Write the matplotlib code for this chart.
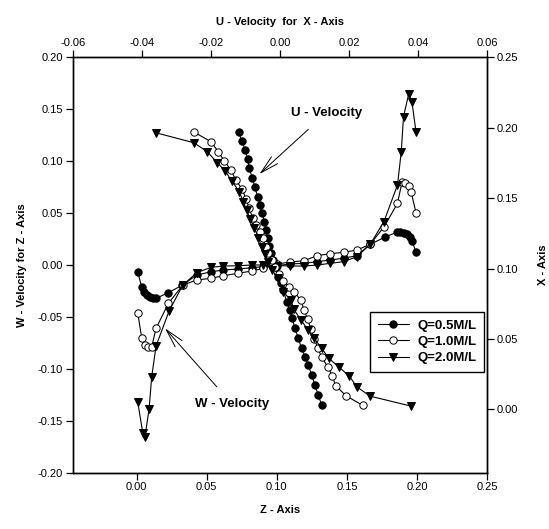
import matplotlib
matplotlib.use("Agg")
import matplotlib.pyplot as plt
from matplotlib.lines import Line2D

plt.rcParams['font.family'] = ['Liberation Sans', 'DejaVu Sans']
plt.rcParams['axes.unicode_minus'] = False

labels = ["Q=0.5M/L", "Q=1.0M/L", "Q=2.0M/L"]

# ---- W-velocity vs Z-axis (bottom / left axes) ----
z_w_05 = [0.0007, 0.0036, 0.0050, 0.0071, 0.0095, 0.0119, 0.0138, 0.0226, 0.0326,
          0.0429, 0.0531, 0.0619, 0.0721, 0.0821, 0.0904, 0.1002, 0.1097, 0.1193,
          0.1288, 0.1381, 0.1476, 0.1571, 0.1666, 0.1774, 0.1861, 0.1881, 0.1904,
          0.1929, 0.1952, 0.1964, 0.1993]
w_05 = [-0.0065, -0.0215, -0.0257, -0.0289, -0.0305, -0.0315, -0.0321, -0.0267, -0.0193,
        -0.0096, -0.0065, -0.0048, -0.0039, -0.0026, -0.0016, -0.0005, 0.0010, 0.0016,
        0.0032, 0.0048, 0.0065, 0.0090, 0.0199, 0.0270, 0.0318, 0.0315, 0.0308,
        0.0296, 0.0273, 0.0231, 0.0128]

z_w_10 = [0.0007, 0.0036, 0.0059, 0.0083, 0.0107, 0.0138, 0.0226, 0.0329,
          0.0429, 0.0531, 0.0619, 0.0721, 0.0821, 0.0904, 0.1002, 0.1097, 0.1193,
          0.1288, 0.1381, 0.1476, 0.1571, 0.1666, 0.1766, 0.1861, 0.1893, 0.1916,
          0.1940, 0.1959, 0.1993]
w_10 = [-0.0459, -0.0706, -0.0770, -0.0787, -0.0787, -0.0610, -0.0369, -0.0193,
        -0.0144, -0.0128, -0.0103, -0.0080, -0.0058, -0.0032, 0.0010, 0.0029, 0.0041,
        0.0090, 0.0109, 0.0122, 0.0144, 0.0199, 0.0369, 0.0594, 0.0796, 0.0787,
        0.0761, 0.0700, 0.0504]

z_w_20 = [0.0007, 0.0043, 0.0059, 0.0088, 0.0107, 0.0138, 0.0231, 0.0329,
          0.0429, 0.0531, 0.0619, 0.0721, 0.0821, 0.0904, 0.1002, 0.1097, 0.1193,
          0.1288, 0.1381, 0.1476, 0.1571, 0.1666, 0.1764, 0.1861, 0.1888, 0.1904,
          0.1941, 0.1964, 0.1993]
w_20 = [-0.1316, -0.1615, -0.1653, -0.1389, -0.1076, -0.0780, -0.0443, -0.0193,
        -0.0074, -0.0022, -0.0010, -0.0007, 0.0000, 0.0000, -0.0005, -0.0010, -0.0010,
        0.0000, 0.0016, 0.0032, 0.0080, 0.0199, 0.0417, 0.0770, 0.1091, 0.1428,
        0.1647, 0.1572, 0.1284]

# ---- U-velocity vs X-axis (top / right axes) ----
u_05 = [-0.01193, -0.01106, -0.01002, -0.00933, -0.00886, -0.00799, -0.00721, -0.00643,
        -0.00576, -0.00510, -0.00452, -0.00403, -0.00353, -0.00307, -0.00249, -0.00191,
        -0.00122, -0.00046, 0.00023, 0.00098, 0.00197, 0.00293, 0.00359, 0.00437,
        0.00533, 0.00631, 0.00727, 0.00823, 0.00921, 0.01017, 0.01112, 0.01211]
x_u_05 = [0.1969, 0.1908, 0.1842, 0.1776, 0.1712, 0.1643, 0.1577, 0.1510,
          0.1451, 0.1392, 0.1332, 0.1273, 0.1214, 0.1160, 0.1108, 0.1060,
          0.1009, 0.0942, 0.0895, 0.0847, 0.0764, 0.0705, 0.0646, 0.0575,
          0.0504, 0.0433, 0.0374, 0.0315, 0.0244, 0.0173, 0.0102, 0.0031]

u_10 = [-0.02488, -0.01996, -0.01784, -0.01610, -0.01416, -0.01280, -0.01089, -0.00982,
        -0.00886, -0.00788, -0.00684, -0.00576, -0.00498, -0.00403, -0.00336, -0.00238,
        -0.00142, -0.00026, 0.00090, 0.00264, 0.00408, 0.00611, 0.00698, 0.00805,
        0.00901, 0.00996, 0.01095, 0.01211, 0.01402, 0.01518, 0.01616, 0.01915, 0.02398]
x_u_10 = [0.1969, 0.1901, 0.1830, 0.1763, 0.1700, 0.1629, 0.1563, 0.1494,
          0.1428, 0.1357, 0.1309, 0.1261, 0.1214, 0.1155, 0.1108, 0.1060,
          0.1011, 0.0961, 0.0911, 0.0869, 0.0835, 0.0776, 0.0705, 0.0639,
          0.0568, 0.0503, 0.0438, 0.0369, 0.0298, 0.0237, 0.0168, 0.0097, 0.0028]

u_20 = [-0.03589, -0.02488, -0.02103, -0.01813, -0.01590, -0.01396, -0.01176, -0.01060,
        -0.00962, -0.00866, -0.00736, -0.00626, -0.00527, -0.00432, -0.00345, -0.00229,
        -0.00046, 0.00098, 0.00313, 0.00408, 0.00611, 0.00823, 0.00996, 0.01211,
        0.01422, 0.01720, 0.02010, 0.02224, 0.02610, 0.03797]
x_u_20 = [0.1964, 0.1893, 0.1830, 0.1751, 0.1695, 0.1624, 0.1545, 0.1474,
          0.1415, 0.1352, 0.1288, 0.1220, 0.1156, 0.1103, 0.1046, 0.0989,
          0.0930, 0.0835, 0.0776, 0.0710, 0.0634, 0.0563, 0.0504, 0.0433,
          0.0362, 0.0298, 0.0237, 0.0161, 0.0094, 0.0023]

z_ticks = [0.00, 0.05, 0.10, 0.15, 0.20, 0.25]
w_ticks = [-0.20, -0.15, -0.10, -0.05, 0.00, 0.05, 0.10, 0.15, 0.20]
u_ticks = [-0.06, -0.04, -0.02, 0.00, 0.02, 0.04, 0.06]
x_ticks = [0.00, 0.05, 0.10, 0.15, 0.20, 0.25]

fig = plt.figure(figsize=(5.49, 5.29), dpi=100)
pos = [0.1324, 0.1064, 0.7547, 0.7853]
ax = fig.add_axes(pos)
ax2 = fig.add_axes(pos, facecolor='none')

styles = [dict(marker='o', mfc='black', mec='black'),
          dict(marker='o', mfc='white', mec='black'),
          dict(marker='v', mfc='black', mec='black')]
ms = [5.3, 5.3, 5.5]
lw = 0.8

for zz, ww, st, m in zip([z_w_05, z_w_10, z_w_20], [w_05, w_10, w_20], styles, ms):
    ax.plot(zz, ww, color='black', lw=lw, ms=m, mew=0.7, **st)
for uu, xx, st, m in zip([u_05, u_10, u_20], [x_u_05, x_u_10, x_u_20], styles, ms):
    ax2.plot(uu, xx, color='black', lw=lw, ms=m, mew=0.7, **st)

ax.set_xlim(-0.0457, 0.25)
ax.set_ylim(-0.20, 0.20)
ax.set_xticks(z_ticks)
ax.set_yticks(w_ticks)
ax.set_xticklabels([f"{v:.2f}" for v in z_ticks])
ax.set_yticklabels([f"{v:.2f}" for v in w_ticks])

ax2.set_xlim(-0.06, 0.06)
ax2.set_ylim(-0.045, 0.25)
ax2.xaxis.tick_top()
ax2.yaxis.tick_right()
ax2.xaxis.set_label_position('top')
ax2.yaxis.set_label_position('right')
ax2.set_xticks(u_ticks)
ax2.set_yticks(x_ticks)
ax2.set_xticklabels([f"{v:.2f}" for v in u_ticks])
ax2.set_yticklabels([f"{v:.2f}" for v in x_ticks])

for a in (ax, ax2):
    a.tick_params(direction='out', length=5, width=0.9, labelsize=8, colors='black', pad=2)
    for s in a.spines.values():
        s.set_linewidth(1.0)

ax.set_xlabel("Z - Axis", fontsize=8, fontweight='bold', labelpad=9)
ax.set_ylabel("W - Velocity for Z - Axis", fontsize=8, fontweight='bold', labelpad=8)
ax2.set_xlabel("U - Velocity  for  X - Axis", fontsize=8, fontweight='bold', labelpad=9)
ax2.set_ylabel("X - Axis", fontsize=8, fontweight='bold', rotation=90, labelpad=14)

# annotations
ax.annotate("U - Velocity", xy=(0.0876, 0.0876), xytext=(0.1352, 0.1463),
            xycoords='data', textcoords='data', ha='center', va='center',
            fontsize=9.5, fontweight='bold',
            arrowprops=dict(arrowstyle='->,head_length=1.4,head_width=0.35',
                            color='black', lw=0.7, shrinkA=8, shrinkB=0))
ax.annotate("W - Velocity", xy=(0.0202, -0.0610), xytext=(0.0680, -0.1338),
            xycoords='data', textcoords='data', ha='center', va='center',
            fontsize=9.5, fontweight='bold',
            arrowprops=dict(arrowstyle='->,head_length=1.4,head_width=0.35',
                            color='black', lw=0.7, shrinkA=8, shrinkB=0))

handles = [Line2D([], [], color='black', lw=lw, ms=m, mew=0.7, **st)
           for st, m in zip(styles, ms)]
leg = ax2.legend(handles, labels, loc='center', bbox_to_anchor=(0.855, 0.315),
                 fancybox=False, framealpha=1, edgecolor='black',
                 prop={'size': 9.5, 'weight': 'bold'}, handlelength=2.4,
                 handletextpad=0.6, borderpad=0.6, labelspacing=0.3)
leg.get_frame().set_linewidth(1.0)

fig.savefig("out.png", dpi=100)
